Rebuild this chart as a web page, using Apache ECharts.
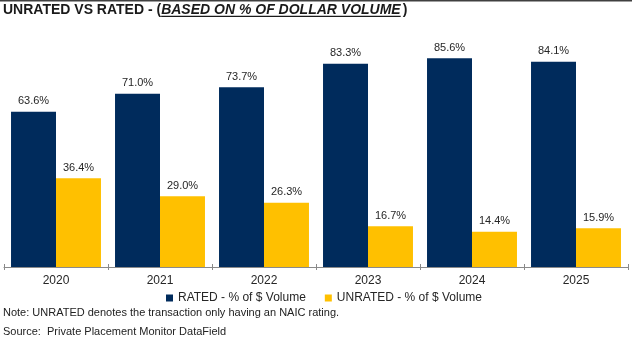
<!DOCTYPE html>
<html>
<head>
<meta charset="utf-8">
<script src="https://cdn.jsdelivr.net/npm/echarts@6/dist/echarts.min.js"></script>
<style>
html,body{margin:0;padding:0;background:#fff;}
#chart{width:632px;height:346px;}
</style>
</head>
<body>
<div id="chart"></div>
<script>
var years = ['2020', '2021', '2022', '2023', '2024', '2025'];
var ratedPct = [63.6, 71.0, 73.7, 83.3, 85.6, 84.1];
var unratedPct = [36.4, 29.0, 26.3, 16.7, 14.4, 15.9];
var seriesNames = ['RATED - % of $ Volume', 'UNRATED - % of $ Volume'];
var titleParts = ['UNRATED VS RATED - (', 'BASED ON % OF DOLLAR VOLUME', ')'];
var noteText = 'Note: UNRATED denotes the transaction only having an NAIC rating.';
var sourceText = 'Source:  Private Placement Monitor DataField';

var NAVY = '#002B5C';
var GOLD = '#FFC000';
var FONT = 'Liberation Sans, Arial, sans-serif';

var ctx = document.createElement('canvas').getContext('2d');
function tw(text, font) { ctx.font = font; return ctx.measureText(text).width; }
var tFont1 = 'bold 14px ' + FONT;
var tFont2 = 'italic bold 14px ' + FONT;
var x0 = 3;
var w1 = tw(titleParts[0], tFont1);
var w2 = tw(titleParts[1], tFont2);

var chart = echarts.init(document.getElementById('chart'), null, {renderer: 'canvas'});
var fmt = function (p) { return p.value.toFixed(1) + '%'; };
chart.setOption({
  animation: false,
  backgroundColor: '#fff',
  grid: {left: 4, right: 4, top: 23, bottom: 79, containLabel: false},
  xAxis: [{
    type: 'category', data: years,
    axisLine: {lineStyle: {color: '#8a8a8a', width: 1}},
    axisTick: {show: true, length: 3, lineStyle: {color: '#8a8a8a'}},
    axisLabel: {color: '#262626', fontSize: 12, fontFamily: FONT, margin: 8}
  }, {
    type: 'category', data: years, position: 'bottom',
    axisLine: {show: false},
    axisTick: {show: true, inside: true, length: 3, lineStyle: {color: '#8a8a8a'}},
    axisLabel: {show: false}
  }],
  yAxis: {type: 'value', min: 0, max: 100, show: false, splitLine: {show: false}},
  legend: {
    top: 292, left: 166, padding: 0, itemWidth: 7, itemHeight: 7, itemGap: 19,
    icon: 'rect',
    textStyle: {color: '#262626', fontSize: 12, fontFamily: FONT},
    data: seriesNames
  },
  series: [{
    name: seriesNames[0], type: 'bar', data: ratedPct, itemStyle: {color: NAVY},
    barGap: '0%', barCategoryGap: '13.5%',
    label: {show: true, position: 'top', distance: 5, formatter: fmt, color: '#262626', fontSize: 11, fontFamily: FONT}
  }, {
    name: seriesNames[1], type: 'bar', data: unratedPct, itemStyle: {color: GOLD},
    barGap: '0%', barCategoryGap: '13.5%',
    label: {show: true, position: 'top', distance: 5, formatter: fmt, color: '#262626', fontSize: 11, fontFamily: FONT}
  }],
  graphic: [
    {type: 'rect', shape: {x: 0, y: 0, width: 632, height: 1.5}, style: {fill: '#404040'}, silent: true},
    {type: 'text', x: x0, y: 10, style: {text: titleParts[0], font: tFont1, fill: '#1a1a1a', verticalAlign: 'middle'}},
    {type: 'text', x: x0 + w1, y: 10, style: {text: titleParts[1], font: tFont2, fill: '#1a1a1a', verticalAlign: 'middle'}},
    {type: 'text', x: x0 + w1 + w2 + 2, y: 10, style: {text: titleParts[2], font: tFont1, fill: '#1a1a1a', verticalAlign: 'middle'}},
    {type: 'rect', shape: {x: x0 + w1, y: 15.8, width: w2, height: 1.3}, style: {fill: '#1a1a1a'}},
    {type: 'text', x: 3, y: 313, style: {text: noteText, font: '11px ' + FONT, fill: '#222', verticalAlign: 'middle'}},
    {type: 'text', x: 3, y: 331.5, style: {text: sourceText, font: '11px ' + FONT, fill: '#222', verticalAlign: 'middle'}}
  ]
});
</script>
</body>
</html>
